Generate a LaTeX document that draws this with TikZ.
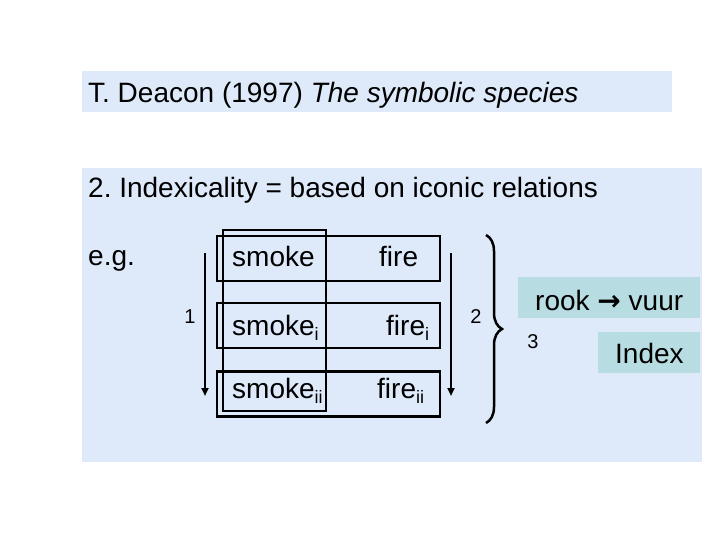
\documentclass[tikz,border=0pt]{standalone}
\usepackage{fontspec}
\setmainfont{Liberation Sans}
\newfontfamily\arrowfont{DejaVu Sans}
\usetikzlibrary{arrows.meta,decorations.pathreplacing}
\definecolor{bgblue}{RGB}{222,234,250}
\definecolor{tealbox}{RGB}{183,221,226}
\frenchspacing
\tikzset{
  big/.style={font=\fontsize{28}{32}\selectfont, inner sep=0pt, anchor=base west},
  num/.style={font=\fontsize{20}{24}\selectfont, inner sep=0pt},
  rowbox/.style={draw=black, line width=2.5pt, minimum width=223pt, minimum height=45pt, inner sep=0pt},
  colbox/.style={draw=black, line width=2.5pt, minimum width=103pt, minimum height=181pt, inner sep=0pt},
  downarrow/.style={line width=2.2pt, -{Triangle[length=8pt,width=7pt]}},
}
\newcommand{\lsub}[1]{\raisebox{-5pt}{\fontsize{18}{20}\selectfont #1}}
\begin{document}
\begin{tikzpicture}[x=1pt,y=-1pt]
\useasboundingbox (0,0) rectangle (720,540);
% background panels
\fill[bgblue] (82,71) rectangle (672,112);
\fill[bgblue] (82,168) rectangle (702,462);
\fill[tealbox] (518,277) rectangle (700,318);
\fill[tealbox] (598,332) rectangle (700,373);
% title texts
\node[big] (title) at (88,103) {T. Deacon (1997) \textit{The symbolic species}};
\node[big] (head) at (88,198) {2. Indexicality = based on iconic relations};
\node[big] (eg) at (88,265) {e.g.};
% boxes
\node[rowbox] (r1) at (328.5,258.5) {};
\node[rowbox] (r2) at (328.5,325.5) {};
\node[rowbox] (r3) at (328.5,394) {};
\node[colbox] (col) at (274.5,320.5) {};
% cell texts
\node[big] (s1) at (232,266) {smoke};
\node[big] (f1) at (379,266) {fire};
\node[big] (s2) at (232,335) {smoke\lsub{i}};
\node[big] (f2) at (386,335) {fire\lsub{i}};
\node[big] (s3) at (232,398) {smoke\lsub{ii}};
\node[big] (f3) at (377,398) {fire\lsub{ii}};
% arrows
\coordinate (la) at (205,253);
\coordinate (lb) at (205,396);
\coordinate (ra) at (451,253);
\coordinate (rb) at (451,396);
\draw[downarrow] (la) -- (lb);
\draw[downarrow] (ra) -- (rb);
% numbers
\node[num] (n1) at (190,317) {1};
\node[num] (n2) at (476,317) {2};
\node[num] (n3) at (533,342) {3};
% brace
\coordinate (ba) at (486,235);
\coordinate (bb) at (486,423);
\draw[line width=2.5pt, decorate, decoration={brace, amplitude=16pt}] (ba) -- (bb);
% right side
\node[big] (rook) at (535,310) {rook {\arrowfont\bfseries →} vuur};
\node[big] (idx) at (615,363) {Index};
\end{tikzpicture}
\end{document}
